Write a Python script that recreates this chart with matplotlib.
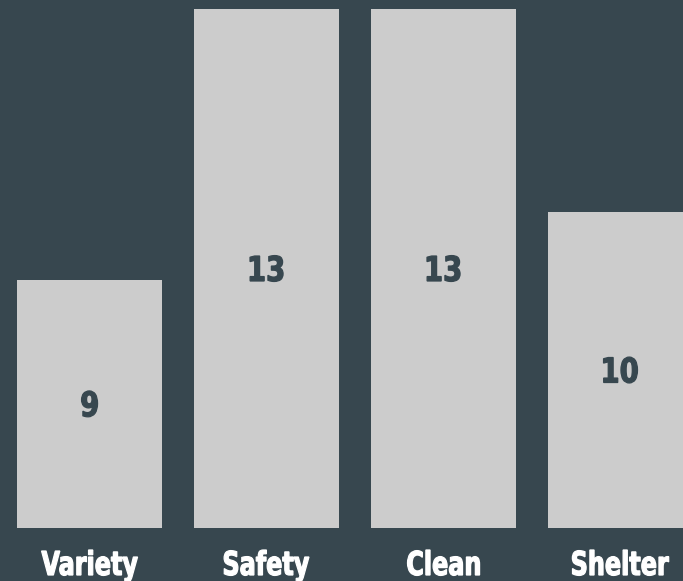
import matplotlib.pyplot as plt
from matplotlib.textpath import TextPath
from matplotlib.patches import PathPatch
from matplotlib.font_manager import FontProperties
from matplotlib.transforms import Affine2D, IdentityTransform

# data
categories = ['Variety', 'Safety', 'Clean', 'Shelter']
values = [9, 13, 13, 10]

bg = '#37474f'
bar_color = '#cccccc'
y_low = 5.33

fig = plt.figure(figsize=(6.83, 5.81), dpi=100, facecolor=bg)
ax = fig.add_axes([0, 53 / 581, 1, (528 - 9) / 581])
ax.set_facecolor(bg)

x = list(range(len(categories)))
ax.bar(x, values, width=0.82, color=bar_color)
ax.set_xlim(-0.506, 3.353)
ax.set_ylim(y_low, 13)
ax.set_xticks([])
ax.set_yticks([])
for s in ax.spines.values():
    s.set_visible(False)

# no condensed font installed -> squeeze a bold path horizontally
fp = FontProperties(family='DejaVu Sans', weight='bold')
cap_h = TextPath((0, 0), 'H', size=10, prop=fp).get_extents().height


def narrow_text(txt, px, py, cap_px, sx, color, valign='baseline'):
    path = TextPath((0, 0), txt, size=10, prop=fp)
    ext = path.get_extents()
    sy = cap_px / cap_h
    dy = 0 if valign == 'baseline' else -cap_h / 2
    tr = Affine2D().translate(-(ext.x0 + ext.width / 2), dy).scale(sx * sy, sy).translate(px, py)
    patch = PathPatch(tr.transform_path(path), facecolor=color, edgecolor=color,
                      lw=0.9, transform=IdentityTransform())
    fig.add_artist(patch)


w_var = TextPath((0, 0), 'Variety', size=10, prop=fp).get_extents().width
sx_lab = 96 / (w_var * 24 / cap_h)
w_9 = TextPath((0, 0), '9', size=10, prop=fp).get_extents().width
sx_val = 16 / (w_9 * 25 / cap_h)

for xi, name, v in zip(x, categories, values):
    px, _ = ax.transData.transform((xi, 0))
    narrow_text(name, px, 6, 24, sx_lab, 'white')
    _, py = ax.transData.transform((xi, (y_low + v) / 2))
    narrow_text(str(v), px, py, 25, sx_val, bg, valign='center')

fig.savefig('out.png', dpi=100, facecolor=bg)
